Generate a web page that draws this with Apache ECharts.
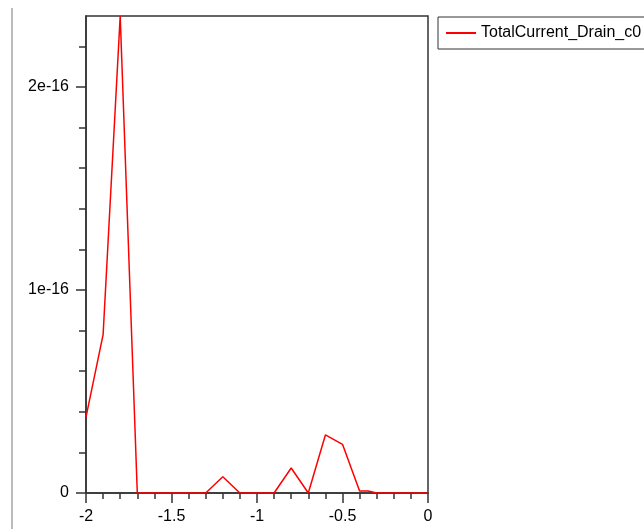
<!DOCTYPE html>
<html>
<head>
<meta charset="utf-8">
<script src="https://cdn.jsdelivr.net/npm/echarts@6/dist/echarts.min.js"></script>
<style>
  html, body { margin: 0; padding: 0; background: #fff; }
  #chart { width: 644px; height: 529px; }
</style>
</head>
<body>
<div id="chart"></div>
<script>
// values are in units of 1e-16
const xValues = [-2, -1.9, -1.8, -1.7, -1.6, -1.5, -1.4, -1.3, -1.2, -1.1, -1.0,
  -0.9, -0.8, -0.7, -0.6, -0.5, -0.4, -0.35, -0.3, -0.2, -0.1, 0]
const current = [0.374, 0.78, 2.35, 0, 0, 0, 0, 0, 0.08, 0, 0,
  0, 0.123, 0, 0.286, 0.24, 0.01, 0.01, 0, 0, 0, 0]
const yMajorTicks = [0, 1, 2]
const yMajorLabels = ['0', '1e-16', '2e-16']
const yMinorTicks = [0.2, 0.4, 0.6, 0.8, 1.2, 1.4, 1.6, 1.8, 2.2]
const seriesName = 'TotalCurrent_Drain_c0'

const chart = echarts.init(document.getElementById('chart'))
const font = 'Liberation Sans, Arial, sans-serif'
const axisColor = '#333'
const gridRect = { left: 86, top: 16, right: 216, bottom: 36 }

chart.setOption({
  animation: false,
  backgroundColor: '#fff',
  textStyle: { fontFamily: font },
  graphic: [{
    type: 'line',
    shape: { x1: 12, y1: 8, x2: 12, y2: 529 },
    style: { stroke: '#bbbbbb', lineWidth: 2 }
  }],
  legend: {
    left: 438,
    top: 17,
    padding: [8, 24, 8, 8],
    borderColor: axisColor,
    borderWidth: 1,
    icon: 'rect',
    itemWidth: 30,
    itemHeight: 2,
    textStyle: { color: '#000', fontSize: 16, fontFamily: font },
    data: [seriesName]
  },
  grid: [
    Object.assign({ show: true, borderColor: axisColor, borderWidth: 1.5 }, gridRect),
    Object.assign({ show: false }, gridRect)
  ],
  xAxis: [{
    type: 'value',
    gridIndex: 0,
    min: -2,
    max: 0,
    interval: 0.5,
    axisLine: { onZero: false, lineStyle: { color: axisColor, width: 1.5 } },
    axisTick: { length: 10, lineStyle: { color: axisColor, width: 1.5 } },
    minorTick: { show: true, splitNumber: 5, length: 6, lineStyle: { color: axisColor, width: 1.5 } },
    splitLine: { show: false },
    axisLabel: { color: '#000', fontSize: 16, margin: 16, fontFamily: font }
  }, {
    type: 'value',
    gridIndex: 1,
    min: -2,
    max: 0,
    show: false
  }],
  yAxis: [{
    type: 'value',
    gridIndex: 0,
    min: 0,
    max: 2.35,
    axisLine: { show: true, onZero: false, lineStyle: { color: axisColor, width: 1.5 } },
    axisTick: { show: true, length: 10, customValues: yMajorTicks, lineStyle: { color: axisColor, width: 1.5 } },
    splitLine: { show: false },
    axisLabel: {
      color: '#000', fontSize: 16, margin: 17, fontFamily: font,
      customValues: yMajorTicks,
      formatter: v => yMajorLabels[yMajorTicks.indexOf(Math.round(v))]
    }
  }, {
    type: 'value',
    gridIndex: 1,
    min: 0,
    max: 2.35,
    axisLine: { show: false, onZero: false },
    axisTick: { show: true, length: 7, customValues: yMinorTicks, lineStyle: { color: axisColor, width: 1.5 } },
    splitLine: { show: false },
    axisLabel: { show: false }
  }],
  series: [{
    name: seriesName,
    type: 'line',
    xAxisIndex: 0,
    yAxisIndex: 0,
    symbol: 'none',
    lineStyle: { color: '#ff0000', width: 1.5 },
    itemStyle: { color: '#ff0000' },
    data: xValues.map((x, i) => [x, current[i]])
  }]
})
</script>
</body>
</html>
